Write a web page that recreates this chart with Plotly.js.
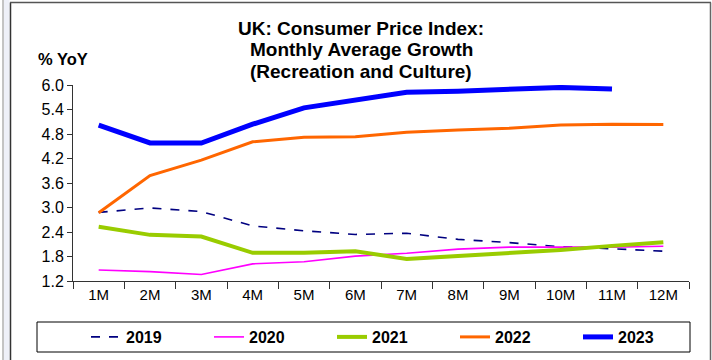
<!DOCTYPE html>
<html>
<head>
<meta charset="utf-8">
<script src="https://cdn.plot.ly/plotly-3.0.1.min.js"></script>
<style>html,body{margin:0;padding:0;background:#fff;}#chart{width:712px;height:360px;}</style>
</head>
<body>
<div id="chart"></div>
<script>
const months = ["1M","2M","3M","4M","5M","6M","7M","8M","9M","10M","11M","12M"];
const y2019 = [2.88,2.99,2.90,2.55,2.43,2.34,2.37,2.22,2.14,2.04,1.99,1.93];
const y2020 = [1.47,1.43,1.36,1.62,1.67,1.81,1.88,1.98,2.03,2.03,2.03,2.05];
const y2021 = [2.53,2.33,2.29,1.89,1.89,1.93,1.74,1.81,1.89,1.96,2.06,2.15];
const y2022 = [2.87,3.78,4.16,4.61,4.72,4.73,4.84,4.90,4.94,5.02,5.04,5.03];
const y2023 = [5.02,4.58,4.58,5.04,5.44,5.63,5.82,5.85,5.88,5.94,5.90];
const yTicks = [1.2,1.8,2.4,3.0,3.6,4.2,4.8,5.4,6.0];
const titleLines = ["UK: Consumer Price Index:", "Monthly Average Growth", "(Recreation and Culture)"];

const W = 712, H = 360, L = 73, R = 689, T = 85, B = 281;
const px = x => (x - L) / (R - L);
const py = y => (B - y) / (B - T);

const traces = [
  {name:"2019", x:months, y:y2019, mode:"lines", line:{color:"#000080", width:1.6, dash:"dash"}},
  {name:"2020", x:months, y:y2020, mode:"lines", line:{color:"#FF00FF", width:1.6}},
  {name:"2021", x:months, y:y2021, mode:"lines", line:{color:"#99CC00", width:4}},
  {name:"2022", x:months, y:y2022, mode:"lines", line:{color:"#FF6600", width:3}},
  {name:"2023", x:months.slice(0, y2023.length), y:y2023, mode:"lines", line:{color:"#0000FF", width:5}}
];

const layout = {
  width: W, height: H,
  margin: {l: L, r: W - R, t: T, b: H - B, pad: 0, autoexpand: false},
  paper_bgcolor: "#fff", plot_bgcolor: "#fff",
  font: {family: "Liberation Sans, Arial, sans-serif", color: "#000", size: 15},
  title: {
    text: "<b>" + titleLines[0] + "</b>",
    x: 361 / W, xanchor: "center", xref: "container",
    y: 1 - 28 / H, yanchor: "middle", yref: "container",
    font: {size: 19, color: "#000"}
  },
  xaxis: {
    type: "category", categoryorder: "array", categoryarray: months,
    range: [-0.5, 11.5], showgrid: false, zeroline: false, automargin: false,
    showline: true, linecolor: "#333", linewidth: 1,
    ticks: "outside", tickson: "boundaries", ticklen: 7, tickcolor: "#333",
    tickfont: {size: 15}
  },
  yaxis: {
    range: [1.2, 6.0], tickvals: yTicks, ticktext: yTicks.map(v => v.toFixed(1)),
    showgrid: false, zeroline: false, automargin: false,
    showline: true, linecolor: "#333", linewidth: 1,
    ticks: "outside", ticklen: 5, tickcolor: "#333",
    tickfont: {size: 16}
  },
  showlegend: true,
  legend: {
    orientation: "h", xref: "container", yref: "container",
    x: 86 / W, xanchor: "left", y: 1 - 337 / H, yanchor: "middle",
    entrywidth: 78, entrywidthmode: "pixels",
    font: {size: 16, color: "#000", family: "Liberation Sans, Arial, sans-serif", weight: "bold"},
    bgcolor: "rgba(0,0,0,0)", borderwidth: 0
  },
  annotations: [
    {text: "<b>" + titleLines[1] + "</b>", xref: "paper", yref: "paper", x: px(361), y: py(50),
     xanchor: "center", yanchor: "middle", showarrow: false, font: {size: 19, color: "#000"}},
    {text: "<b>" + titleLines[2] + "</b>", xref: "paper", yref: "paper", x: px(361), y: py(71.5),
     xanchor: "center", yanchor: "middle", showarrow: false, font: {size: 19, color: "#000"}},
    {text: "<b>% YoY</b>", xref: "paper", yref: "paper", x: px(36), y: py(59),
     xanchor: "left", yanchor: "middle", showarrow: false, font: {size: 16.5, color: "#000"}}
  ],
  shapes: [
    {type: "rect", xref: "paper", yref: "paper", x0: px(37), x1: px(690), y0: py(352), y1: py(322),
     line: {color: "#000", width: 1}, fillcolor: "rgba(0,0,0,0)", layer: "below"},
    {type: "line", xref: "paper", yref: "paper", x0: px(10.5), x1: px(10.5), y0: py(2.5), y1: py(360),
     line: {color: "#333", width: 1.5}},
    {type: "line", xref: "paper", yref: "paper", x0: px(10), x1: px(711), y0: py(2.5), y1: py(2.5),
     line: {color: "#555", width: 1.5}},
    {type: "line", xref: "paper", yref: "paper", x0: px(710.5), x1: px(710.5), y0: py(2.5), y1: py(360),
     line: {color: "#666", width: 1.5}},
    {type: "rect", xref: "paper", yref: "paper", x0: px(4), x1: px(9.5), y0: py(0), y1: py(360),
     line: {width: 0}, fillcolor: "#eef0f8", layer: "below"},
    {type: "line", xref: "paper", yref: "paper", x0: px(3), x1: px(3), y0: py(0), y1: py(360),
     line: {color: "#888", width: 1}}
  ]
};

Plotly.newPlot("chart", traces, layout, {staticPlot: true, displayModeBar: false});
</script>
</body>
</html>
